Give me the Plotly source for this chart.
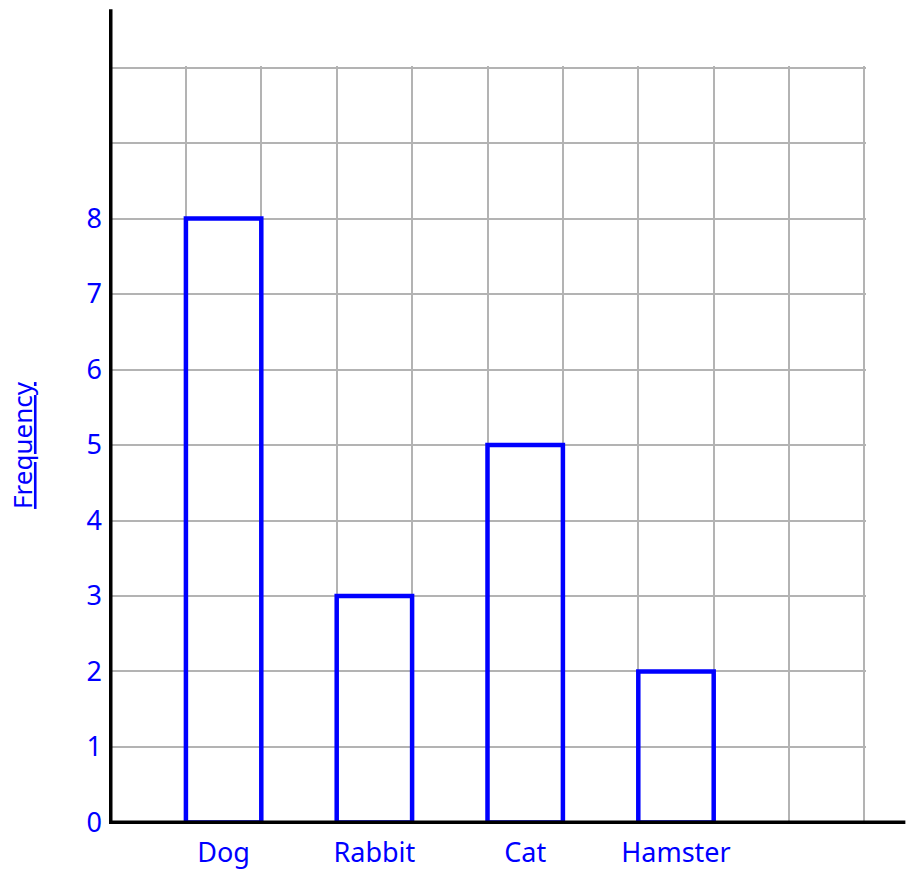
import plotly.graph_objects as go

# Data
categories = ["Dog", "Rabbit", "Cat", "Hamster"]
frequencies = [8, 3, 5, 2]
y_tick_values = [0, 1, 2, 3, 4, 5, 6, 7, 8]
y_tick_labels = ["0", "1", "2", "3", "4", "5", "6", "7", "8"]
y_title = "Frequency"

BLUE = "#0000ff"
GRID = "#b3b3b3"
FONT = "Noto Sans"
PAD = 0.02  # small range padding so the edge grid lines are drawn

# bars occupy every other grid column, starting at column 1
bar_x = [2 * i + 1.5 for i in range(len(categories))]

fig = go.Figure()
fig.add_trace(go.Bar(
    x=bar_x,
    y=frequencies,
    width=1,
    marker=dict(color="rgba(0,0,0,0)", line=dict(color=BLUE, width=4.5)),
    hoverinfo="skip",
    cliponaxis=False,
))

fig.update_layout(
    width=908,
    height=870,
    margin=dict(l=108.5, r=41.5, t=65.5, b=45.5, autoexpand=False),
    paper_bgcolor="white",
    plot_bgcolor="white",
    showlegend=False,
    font=dict(family=FONT, color=BLUE, size=27),
    xaxis=dict(
        range=[-PAD, 10 + PAD],
        tickvals=bar_x,
        ticktext=categories,
        ticks="",
        showgrid=False,
        zeroline=False,
        showline=False,
        tickfont=dict(family=FONT, color=BLUE, size=27),
        ticklabelstandoff=10,
        minor=dict(dtick=1, tick0=0, showgrid=True, gridcolor=GRID, gridwidth=2, ticks=""),
        fixedrange=True,
    ),
    yaxis=dict(
        range=[-PAD, 10 + PAD],
        tickvals=y_tick_values,
        ticktext=y_tick_labels,
        ticks="",
        showgrid=True,
        gridcolor=GRID,
        gridwidth=2,
        zeroline=False,
        showline=False,
        tickfont=dict(family=FONT, color=BLUE, size=27),
        ticklabelstandoff=6,
        minor=dict(dtick=1, tick0=0, showgrid=True, gridcolor=GRID, gridwidth=2, ticks=""),
        fixedrange=True,
    ),
)

# black axis lines extending beyond the grid
fig.add_shape(type="line", xref="paper", yref="y", x0=0, x1=1.052, y0=0, y1=0,
              line=dict(color="black", width=4), layer="above")
fig.add_shape(type="line", xref="x", yref="paper", x0=0, x1=0, y0=0.0, y1=1.075,
              line=dict(color="black", width=4), layer="above")

fig.add_annotation(
    text="<u>" + y_title + "</u>",
    xref="paper", yref="paper", x=-0.115, y=0.5,
    xanchor="center", yanchor="middle",
    textangle=-90, showarrow=False,
    font=dict(family=FONT, color=BLUE, size=26),
)

fig.write_html("out.html", config={"displayModeBar": False},
               post_script="document.body.style.margin='0';")
